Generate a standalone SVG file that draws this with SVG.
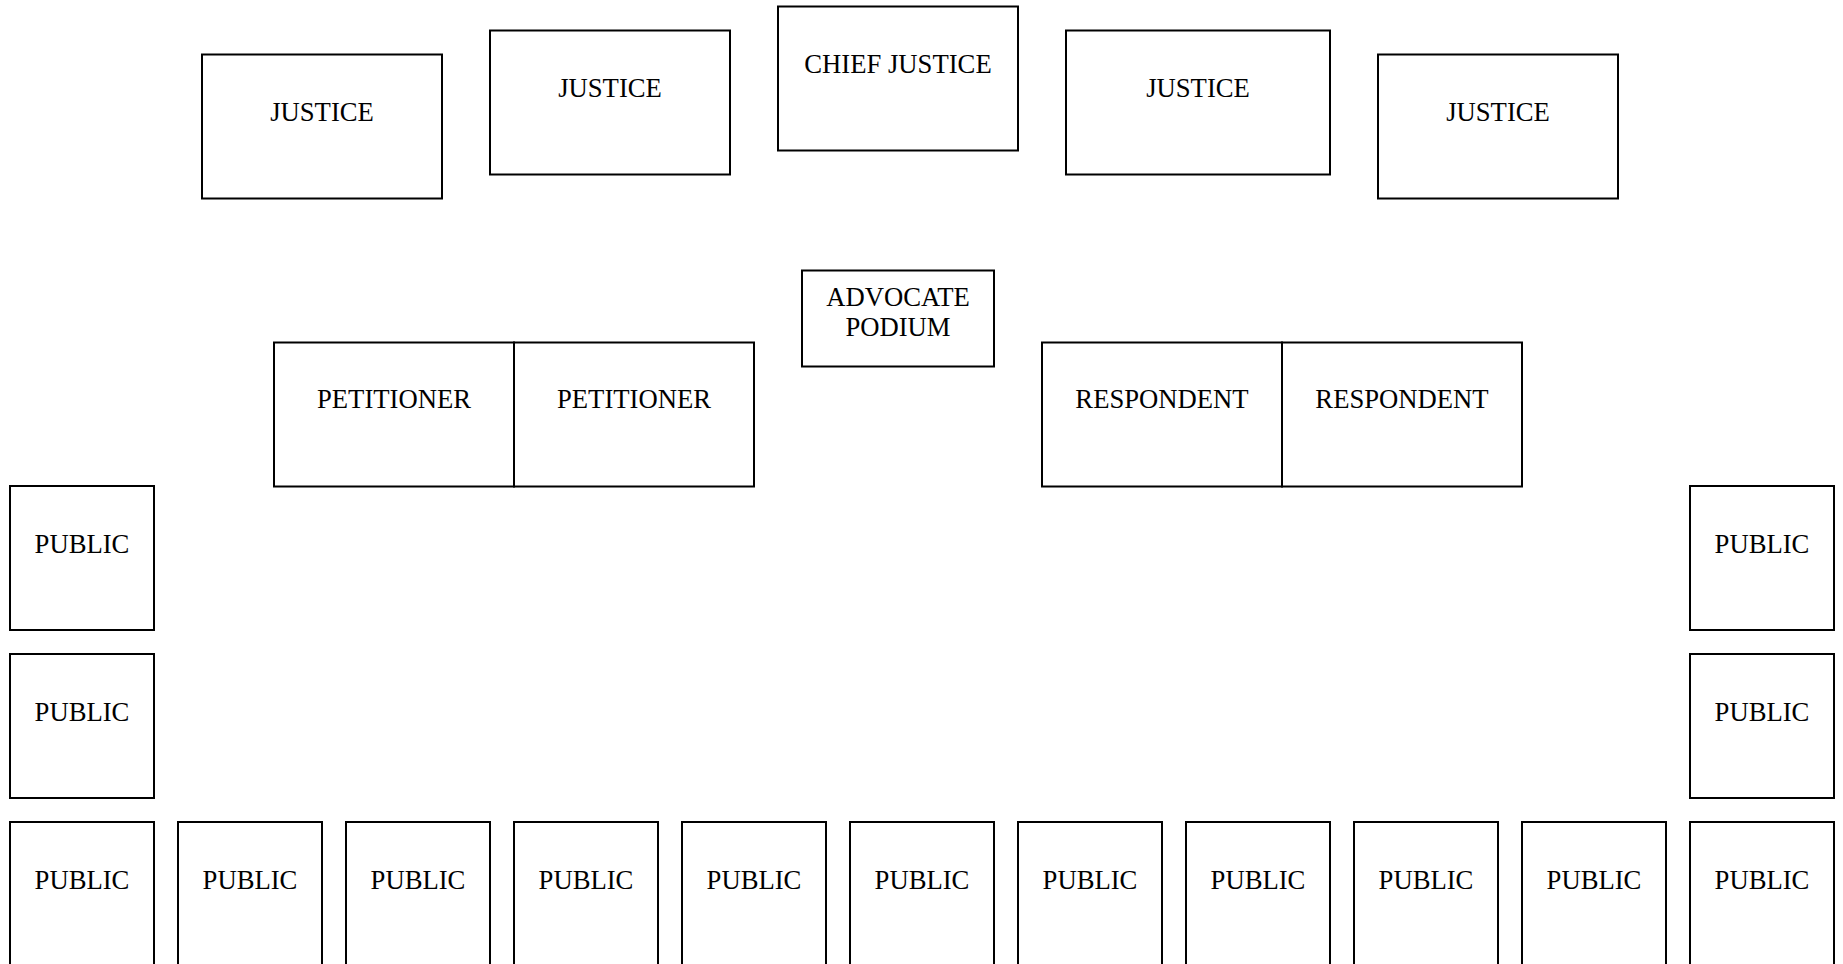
<svg xmlns="http://www.w3.org/2000/svg" width="1843" height="964" viewBox="0 0 1843 964">
<style>
rect.box { fill: #ffffff; stroke: #000000; stroke-width: 2; }
text { font-family: "Liberation Serif", "Times New Roman", serif; font-size: 26.67px; fill: #000000; text-anchor: middle; }
</style>
<rect x="0" y="0" width="1843" height="964" fill="#ffffff"/>
<g id="connectors"></g>
<!-- Bench -->
<g id="justice-1"><rect class="box" x="202" y="54.5" width="240" height="144"/><text x="322" y="121">JUSTICE</text></g>
<g id="justice-2"><rect class="box" x="490" y="30.5" width="240" height="144"/><text x="610" y="97">JUSTICE</text></g>
<g id="chief-justice"><rect class="box" x="778" y="6.5" width="240" height="144"/><text x="898" y="73">CHIEF JUSTICE</text></g>
<g id="justice-3"><rect class="box" x="1066" y="30.5" width="264" height="144"/><text x="1198" y="97">JUSTICE</text></g>
<g id="justice-4"><rect class="box" x="1378" y="54.5" width="240" height="144"/><text x="1498" y="121">JUSTICE</text></g>
<!-- Podium -->
<g id="advocate-podium"><rect class="box" x="802" y="270.5" width="192" height="96"/><text x="898" y="306">ADVOCATE</text><text x="898" y="336">PODIUM</text></g>
<!-- Counsel tables -->
<g id="petitioner-1"><rect class="box" x="274" y="342.5" width="240" height="144"/><text x="394" y="408">PETITIONER</text></g>
<g id="petitioner-2"><rect class="box" x="514" y="342.5" width="240" height="144"/><text x="634" y="408">PETITIONER</text></g>
<g id="respondent-1"><rect class="box" x="1042" y="342.5" width="240" height="144"/><text x="1162" y="408">RESPONDENT</text></g>
<g id="respondent-2"><rect class="box" x="1282" y="342.5" width="240" height="144"/><text x="1402" y="408">RESPONDENT</text></g>
<!-- Public seating -->
<g id="public-l1"><rect class="box" x="10" y="486" width="144" height="144"/><text x="82" y="553">PUBLIC</text></g>
<g id="public-l2"><rect class="box" x="10" y="654" width="144" height="144"/><text x="82" y="721">PUBLIC</text></g>
<g id="public-r1"><rect class="box" x="1690" y="486" width="144" height="144"/><text x="1762" y="553">PUBLIC</text></g>
<g id="public-r2"><rect class="box" x="1690" y="654" width="144" height="144"/><text x="1762" y="721">PUBLIC</text></g>
<g id="public-b1"><rect class="box" x="10" y="822" width="144" height="144"/><text x="82" y="889">PUBLIC</text></g>
<g id="public-b2"><rect class="box" x="178" y="822" width="144" height="144"/><text x="250" y="889">PUBLIC</text></g>
<g id="public-b3"><rect class="box" x="346" y="822" width="144" height="144"/><text x="418" y="889">PUBLIC</text></g>
<g id="public-b4"><rect class="box" x="514" y="822" width="144" height="144"/><text x="586" y="889">PUBLIC</text></g>
<g id="public-b5"><rect class="box" x="682" y="822" width="144" height="144"/><text x="754" y="889">PUBLIC</text></g>
<g id="public-b6"><rect class="box" x="850" y="822" width="144" height="144"/><text x="922" y="889">PUBLIC</text></g>
<g id="public-b7"><rect class="box" x="1018" y="822" width="144" height="144"/><text x="1090" y="889">PUBLIC</text></g>
<g id="public-b8"><rect class="box" x="1186" y="822" width="144" height="144"/><text x="1258" y="889">PUBLIC</text></g>
<g id="public-b9"><rect class="box" x="1354" y="822" width="144" height="144"/><text x="1426" y="889">PUBLIC</text></g>
<g id="public-b10"><rect class="box" x="1522" y="822" width="144" height="144"/><text x="1594" y="889">PUBLIC</text></g>
<g id="public-b11"><rect class="box" x="1690" y="822" width="144" height="144"/><text x="1762" y="889">PUBLIC</text></g>
</svg>
